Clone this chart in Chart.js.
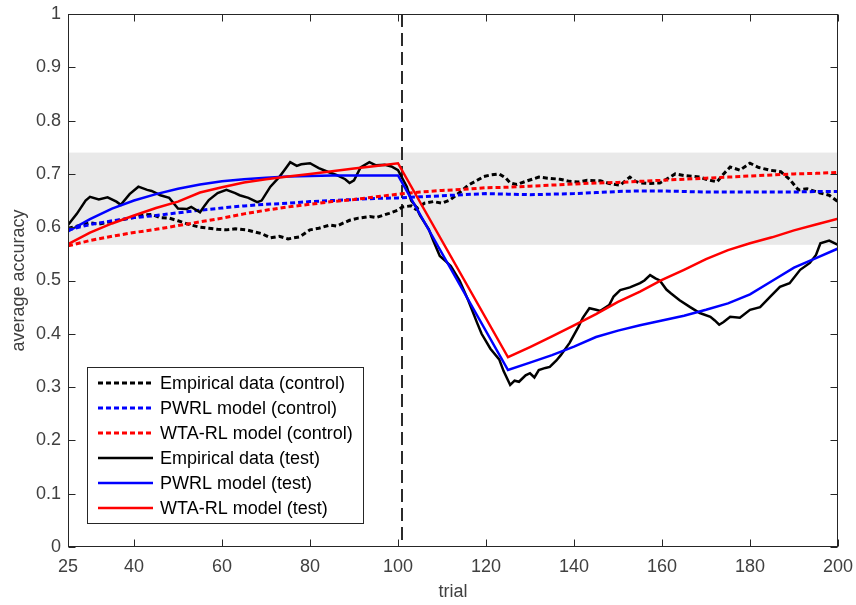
<!DOCTYPE html>
<html>
<head>
<meta charset="utf-8">
<script src="https://cdn.jsdelivr.net/npm/chart.js@4.4.1/dist/chart.umd.min.js"></script>
<style>
  html, body { margin: 0; padding: 0; background: #ffffff; }
  #wrap { width: 856px; height: 605px; }
</style>
</head>
<body>
<div id="wrap"><canvas id="c" width="856" height="605"></canvas></div>
<script>
// ---- axis setup ----
const xTicks = [25, 40, 60, 80, 100, 120, 140, 160, 180, 200];
const yTicks = [0, 0.1, 0.2, 0.3, 0.4, 0.5, 0.6, 0.7, 0.8, 0.9, 1];
const bandRange = [0.567, 0.740];   // shaded accuracy range
const switchTrial = 101;            // reversal point

// ---- empirical data (control) ----
const empCtrlTrials = [25, 27, 30, 32, 34.5, 37, 40, 42, 44, 46, 48, 50, 53, 55, 57, 59, 61, 63, 65.5, 67, 69, 71, 73, 75, 77.7, 80, 82, 84.5, 86, 89, 91, 93.6, 95, 98, 100, 101, 103, 104, 106, 108, 110, 111.8, 114, 116, 118, 119.5, 121, 123, 124.5, 125.5, 127, 129, 130.5, 132, 134, 136.8, 139, 141, 143, 146, 148, 150.5, 152.7, 154, 155, 157, 159.5, 161, 163, 165, 168.6, 170, 172.5, 174, 175.5, 177.7, 180, 182, 184.5, 187, 189, 191, 193, 196, 198, 200];
const empCtrlAcc = [0.598, 0.602, 0.608, 0.606, 0.610, 0.614, 0.618, 0.623, 0.624, 0.618, 0.617, 0.612, 0.604, 0.600, 0.598, 0.596, 0.595, 0.597, 0.595, 0.592, 0.588, 0.580, 0.583, 0.578, 0.582, 0.595, 0.598, 0.604, 0.602, 0.613, 0.617, 0.620, 0.618, 0.626, 0.632, 0.638, 0.640, 0.634, 0.645, 0.648, 0.645, 0.651, 0.665, 0.679, 0.688, 0.695, 0.698, 0.700, 0.692, 0.683, 0.680, 0.686, 0.690, 0.694, 0.692, 0.690, 0.686, 0.685, 0.688, 0.687, 0.682, 0.679, 0.694, 0.686, 0.683, 0.682, 0.683, 0.690, 0.700, 0.697, 0.694, 0.690, 0.685, 0.700, 0.713, 0.707, 0.720, 0.712, 0.707, 0.704, 0.690, 0.670, 0.672, 0.664, 0.660, 0.648];

// ---- model fits (control) ----
const ctrlModelTrials = [25, 30, 35, 40, 45, 50, 55, 60, 65, 70, 75, 80, 85, 90, 95, 100, 105, 110, 115, 120, 125, 130, 135, 140, 145, 150, 155, 160, 165, 170, 175, 180, 185, 190, 195, 200];
const pwrlCtrlAcc = [0.595, 0.605, 0.612, 0.618, 0.622, 0.627, 0.632, 0.636, 0.640, 0.643, 0.645, 0.648, 0.650, 0.652, 0.654, 0.655, 0.657, 0.659, 0.661, 0.663, 0.662, 0.661, 0.662, 0.663, 0.665, 0.667, 0.668, 0.668, 0.667, 0.666, 0.666, 0.666, 0.666, 0.666, 0.667, 0.667];
const wtaCtrlAcc = [0.565, 0.575, 0.583, 0.590, 0.596, 0.603, 0.610, 0.617, 0.625, 0.632, 0.638, 0.643, 0.648, 0.652, 0.657, 0.662, 0.666, 0.669, 0.671, 0.674, 0.675, 0.677, 0.679, 0.681, 0.683, 0.684, 0.686, 0.688, 0.690, 0.692, 0.694, 0.696, 0.698, 0.700, 0.701, 0.703];

// ---- empirical data (test) ----
const empTestTrials = [25, 27, 29, 30, 32, 34, 36, 37, 39, 41, 43, 44, 46, 48, 50, 52, 53, 55, 56, 57, 59, 61, 63, 64, 66, 68, 69, 71, 73, 74, 75.5, 77, 78, 80, 82, 84, 86, 88, 89, 90, 91.5, 93.5, 95, 97, 98.5, 100, 102, 103, 104, 105, 107, 108, 109.5, 111, 112, 114, 116, 118, 119, 121, 123, 124, 125.5, 126.5, 127.5, 129, 130, 131, 132, 133.5, 134.5, 136, 137, 139, 141, 142, 143.5, 145, 146, 148, 149, 150.5, 152.7, 155, 156, 157.3, 158.5, 159.5, 161, 162, 164, 166.4, 168.6, 171, 172, 173, 174, 175.5, 177.7, 180, 182.3, 184.5, 186.8, 189, 191.4, 193.6, 195, 196, 198, 200];
const empTestAcc = [0.604, 0.625, 0.650, 0.657, 0.652, 0.656, 0.648, 0.642, 0.662, 0.676, 0.670, 0.668, 0.660, 0.655, 0.635, 0.634, 0.638, 0.628, 0.640, 0.651, 0.664, 0.670, 0.664, 0.660, 0.655, 0.647, 0.650, 0.676, 0.694, 0.705, 0.722, 0.715, 0.718, 0.720, 0.711, 0.704, 0.698, 0.690, 0.683, 0.688, 0.712, 0.722, 0.716, 0.717, 0.714, 0.707, 0.676, 0.650, 0.640, 0.622, 0.596, 0.575, 0.546, 0.535, 0.527, 0.500, 0.462, 0.420, 0.400, 0.372, 0.352, 0.330, 0.304, 0.312, 0.310, 0.322, 0.326, 0.318, 0.332, 0.336, 0.338, 0.350, 0.360, 0.383, 0.413, 0.430, 0.448, 0.445, 0.443, 0.454, 0.470, 0.482, 0.487, 0.495, 0.500, 0.510, 0.504, 0.500, 0.483, 0.476, 0.463, 0.450, 0.439, 0.432, 0.425, 0.417, 0.422, 0.432, 0.430, 0.445, 0.450, 0.469, 0.488, 0.495, 0.520, 0.533, 0.548, 0.570, 0.575, 0.567];

// ---- model fits (test) ----
const testModelTrials = [25, 30, 35, 40, 45, 50, 55, 60, 65, 70, 75, 80, 85, 90, 95, 100, 125, 130, 135, 140, 145, 150, 155, 160, 165, 170, 175, 180, 185, 190, 195, 200];
const pwrlTestAcc = [0.592, 0.615, 0.635, 0.650, 0.662, 0.672, 0.680, 0.686, 0.690, 0.693, 0.695, 0.696, 0.697, 0.697, 0.697, 0.697, 0.332, 0.346, 0.360, 0.376, 0.394, 0.406, 0.416, 0.425, 0.434, 0.445, 0.457, 0.474, 0.499, 0.524, 0.542, 0.560];
const wtaTestAcc = [0.568, 0.590, 0.607, 0.622, 0.636, 0.648, 0.665, 0.675, 0.684, 0.690, 0.695, 0.700, 0.705, 0.710, 0.715, 0.720, 0.356, 0.375, 0.395, 0.416, 0.437, 0.460, 0.479, 0.501, 0.520, 0.540, 0.557, 0.570, 0.581, 0.594, 0.605, 0.616];

const FONT = '"Liberation Sans", Arial, Helvetica, sans-serif';
const AXIS_COLOR = '#262626';
const TEXT_COLOR = '#404040';

const pts = (xs, ys) => xs.map((t, i) => ({ x: t, y: ys[i] }));

const seriesDefs = [
  { label: 'Empirical data (control)', color: '#000000', dash: [5, 3], xs: empCtrlTrials, ys: empCtrlAcc, w: 3 },
  { label: 'PWRL model (control)',     color: '#0000ff', dash: [5, 3], xs: ctrlModelTrials, ys: pwrlCtrlAcc, w: 3 },
  { label: 'WTA-RL model (control)',   color: '#ff0000', dash: [5, 3], xs: ctrlModelTrials, ys: wtaCtrlAcc, w: 3 },
  { label: 'Empirical data (test)',    color: '#000000', dash: [],     xs: empTestTrials, ys: empTestAcc, w: 2.5 },
  { label: 'PWRL model (test)',        color: '#0000ff', dash: [],     xs: testModelTrials, ys: pwrlTestAcc, w: 2.5 },
  { label: 'WTA-RL model (test)',      color: '#ff0000', dash: [],     xs: testModelTrials, ys: wtaTestAcc, w: 2.5 }
];

const datasets = seriesDefs.map((s, i) => ({
  label: s.label,
  data: pts(s.xs, s.ys),
  borderColor: s.color,
  backgroundColor: s.color,
  borderWidth: s.w,
  borderDash: s.dash,
  pointRadius: 0,
  tension: 0,
  fill: false,
  order: seriesDefs.length - i   // later series drawn on top
}));

// shaded band, reversal marker, boxed axes with inward ticks, legend
const framePlugin = {
  id: 'frame',
  beforeDatasetsDraw(chart) {
    const { ctx, chartArea: a, scales: { x, y } } = chart;
    ctx.save();
    const yt = y.getPixelForValue(bandRange[1]);
    const yb = y.getPixelForValue(bandRange[0]);
    ctx.fillStyle = '#e9e9e9';
    ctx.fillRect(a.left, yt, a.right - a.left, yb - yt);
    const sx = Math.round(x.getPixelForValue(switchTrial));
    ctx.strokeStyle = '#2b2b2b';
    ctx.lineWidth = 2;
    ctx.setLineDash([13, 6]);
    ctx.beginPath();
    ctx.moveTo(sx, a.top);
    ctx.lineTo(sx, a.bottom);
    ctx.stroke();
    ctx.restore();
  },
  afterDraw(chart) {
    const { ctx, chartArea: a, scales: { x, y } } = chart;
    ctx.save();
    ctx.strokeStyle = AXIS_COLOR;
    ctx.lineWidth = 1;
    ctx.setLineDash([]);
    const L = Math.round(a.left) + 0.5, R = Math.round(a.right) - 0.5;
    const T = Math.round(a.top) + 0.5, B = Math.round(a.bottom) - 0.5;
    ctx.strokeRect(L, T, R - L, B - T);
    const tl = 7;
    ctx.beginPath();
    xTicks.forEach(v => {
      const px = Math.round(x.getPixelForValue(v)) + 0.5;
      ctx.moveTo(px, B); ctx.lineTo(px, B - tl);
      ctx.moveTo(px, T); ctx.lineTo(px, T + tl);
    });
    yTicks.forEach(v => {
      const py = Math.round(y.getPixelForValue(v)) + 0.5;
      ctx.moveTo(L, py); ctx.lineTo(L + tl, py);
      ctx.moveTo(R, py); ctx.lineTo(R - tl, py);
    });
    ctx.stroke();

    // legend
    const lx = 87.5, ly = 367.5, lw = 276, lh = 156;
    ctx.fillStyle = '#ffffff';
    ctx.fillRect(lx, ly, lw, lh);
    ctx.strokeStyle = AXIS_COLOR;
    ctx.lineWidth = 1;
    ctx.strokeRect(lx, ly, lw, lh);
    ctx.font = '18px ' + FONT;
    ctx.textBaseline = 'middle';
    ctx.textAlign = 'left';
    chart.data.datasets.forEach((ds, i) => {
      const cy = 383 + i * 25;
      ctx.strokeStyle = ds.borderColor;
      ctx.lineWidth = ds.borderWidth;
      ctx.setLineDash(ds.borderDash);
      ctx.beginPath();
      ctx.moveTo(98, cy);
      ctx.lineTo(153, cy);
      ctx.stroke();
      ctx.setLineDash([]);
      ctx.fillStyle = '#000000';
      ctx.fillText(ds.label, 160, cy + 1);
    });
    ctx.restore();
  }
};

new Chart(document.getElementById('c'), {
  type: 'line',
  data: { datasets },
  options: {
    responsive: false,
    animation: false,
    devicePixelRatio: 1,
    layout: { padding: { left: 0, right: 18, top: 14, bottom: 0 } },
    plugins: { legend: { display: false }, tooltip: { enabled: false } },
    scales: {
      x: {
        type: 'linear',
        min: 25, max: 200,
        grid: { display: false, drawTicks: false },
        border: { display: false },
        afterBuildTicks: s => { s.ticks = xTicks.map(v => ({ value: v })); },
        afterFit: s => { s.height = 58; s.paddingLeft = 0; s.paddingRight = 0; },
        ticks: {
          color: TEXT_COLOR, padding: 9, maxRotation: 0, autoSkip: false,
          font: { family: FONT, size: 18 },
          callback: v => String(v)
        },
        title: {
          display: true, text: 'trial', color: TEXT_COLOR,
          font: { family: FONT, size: 18 }, padding: { top: 0, bottom: 2 }
        }
      },
      y: {
        type: 'linear',
        min: 0, max: 1,
        grid: { display: false, drawTicks: false },
        border: { display: false },
        afterBuildTicks: s => { s.ticks = yTicks.map(v => ({ value: v })); },
        afterFit: s => { s.width = 68; s.paddingTop = 0; s.paddingBottom = 0; },
        ticks: {
          color: TEXT_COLOR, padding: 7, autoSkip: false,
          font: { family: FONT, size: 18 },
          callback: v => String(v)
        },
        title: {
          display: true, text: 'average accuracy', color: TEXT_COLOR,
          font: { family: FONT, size: 18 }, padding: { top: 8, bottom: 0 }
        }
      }
    }
  },
  plugins: [framePlugin]
});
</script>
</body>
</html>
